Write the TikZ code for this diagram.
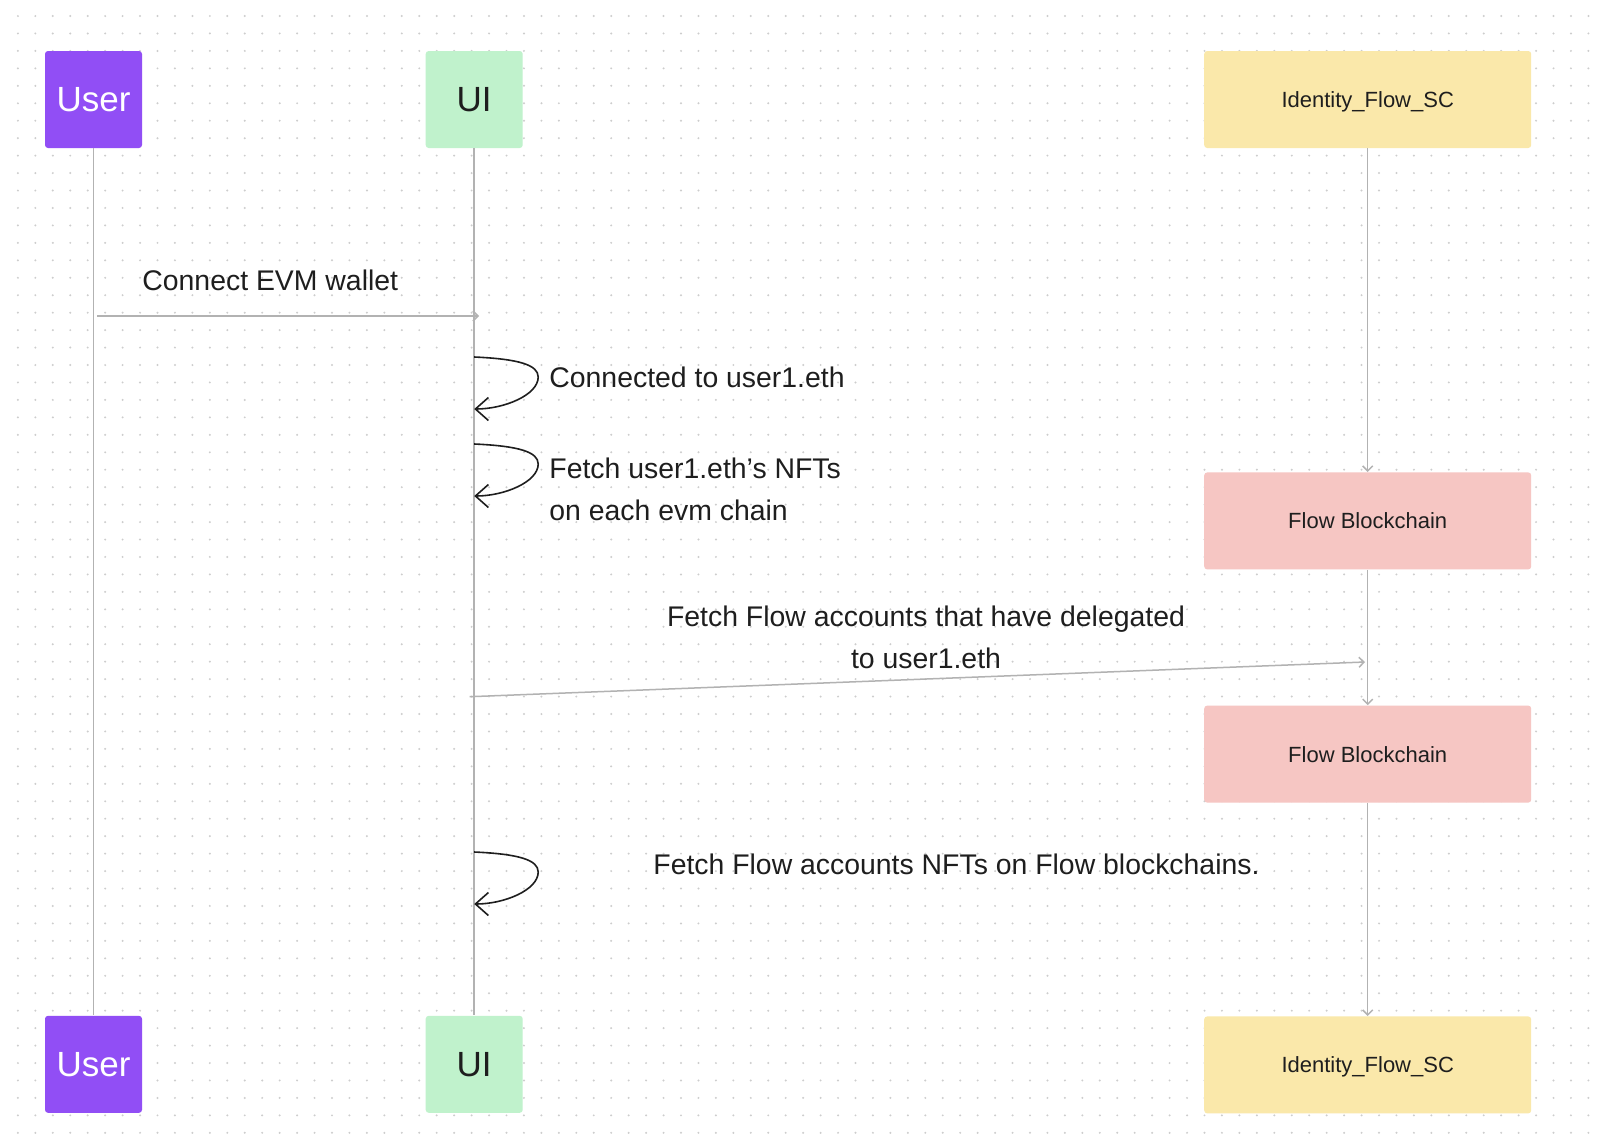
\documentclass[tikz,border=0pt]{standalone}
\usepackage{fontspec}
\setmainfont{Liberation Sans}
\usetikzlibrary{positioning,arrows.meta}
\definecolor{userpurple}{RGB}{145,78,245}
\definecolor{uigreen}{RGB}{192,242,204}
\definecolor{scyellow}{RGB}{250,232,170}
\definecolor{chainpink}{RGB}{246,198,195}
\definecolor{linegray}{RGB}{178,178,178}
\definecolor{dotgray}{RGB}{205,205,205}
\definecolor{textdark}{RGB}{30,30,30}

\begin{document}
\begin{tikzpicture}[x=0.5pt,y=-0.5pt,
    actor/.style={rectangle,rounded corners=1.5pt,minimum width=48.5pt,minimum height=48.5pt,inner sep=0pt,text depth=0pt,font=\fontsize{17.5}{20}\selectfont},
    userbox/.style={actor,fill=userpurple,text=white},
    uibox/.style={actor,fill=uigreen,text=textdark},
    scbox/.style={actor,minimum width=163.5pt,fill=scyellow,text=textdark,font=\fontsize{11}{13}\selectfont},
    chainbox/.style={scbox,fill=chainpink},
    lifeline/.style={draw=linegray,line width=0.75pt},
    msg/.style={lifeline,-{Straight Barb[length=2.5pt,width=5pt]}},
    selfloop/.style={draw=textdark,line width=0.8pt,-{Straight Barb[length=6.5pt,width=11.5pt]}},
    lbl/.style={font=\fontsize{14.2}{21}\selectfont,text=textdark,inner sep=0pt}]
        \fill[white] (0,0) rectangle (1604,1141);
        \useasboundingbox (0,0) rectangle (1604,1141);
        \foreach \i in {0,...,90}{
            \foreach \j in {0,...,64}{
                \fill[dotgray] (17.9+17.45*\i,16+17.45*\j) circle[radius=0.55pt];
            }
        }

        \node[userbox] (usertop) at (93.5,99.5) {User};
        \node[uibox] (uitop) at (474.2,99.5) {UI};
        \node[scbox] (idtop) at (1367.7,99.5) {Identity\_Flow\_SC};
        \node[chainbox] (chain1) [below=161.8pt of idtop] {Flow Blockchain};
        \node[chainbox] (chain2) [below=67.7pt of chain1] {Flow Blockchain};
        \node[scbox] (idbot) [below=106.5pt of chain2] {Identity\_Flow\_SC};
        \node[userbox] (userbot) [below=433.5pt of usertop] {User};
        \node[uibox] (uibot) [below=433.5pt of uitop] {UI};

        \draw[lifeline] (usertop) -- (userbot);
        \draw[lifeline] (uitop) -- (uibot);
        \foreach \b [remember=\b as \a (initially idtop)] in {chain1,chain2,idbot}{
            \draw[msg] (\a) -- (\b);
        }

        \coordinate (wallet1) at (97,316);
        \coordinate (wallet2) at (479,316);
        \draw[msg] (wallet1) -- (wallet2);
        \node[lbl,anchor=west] (walletlbl) at (142,280) {Connect EVM wallet};

        \foreach \n/\y in {1/357,2/444,3/852}{
            \coordinate (loop\n) at (uitop |- 0,\y);
            \draw[selfloop] (loop\n) .. controls +(45,2) and +(0,-12) .. ([shift={(64,20)}]loop\n)
                .. controls +(0,18) and +(30,0) .. ([shift={(0,52)}]loop\n);
        }
        \node[lbl,anchor=west] (connectedlbl) at (549,377) {Connected to user1.eth};
        \node[lbl,anchor=west,align=left] (nftlbl) at (549,489.5) {Fetch user1.eth’s NFTs\\on each evm chain};

        \coordinate (delegate1) at (469.6,696.7);
        \coordinate (delegate2) at (1365,662);
        \draw[msg] (delegate1) -- (delegate2);
        \node[lbl,align=center] (delegatelbl) at (926,637.5) {Fetch Flow accounts that have delegated\\to user1.eth};

        \node[lbl,anchor=west] (flownftlbl) at (653,864) {Fetch Flow accounts NFTs on Flow blockchains.};
\end{tikzpicture}
\end{document}
